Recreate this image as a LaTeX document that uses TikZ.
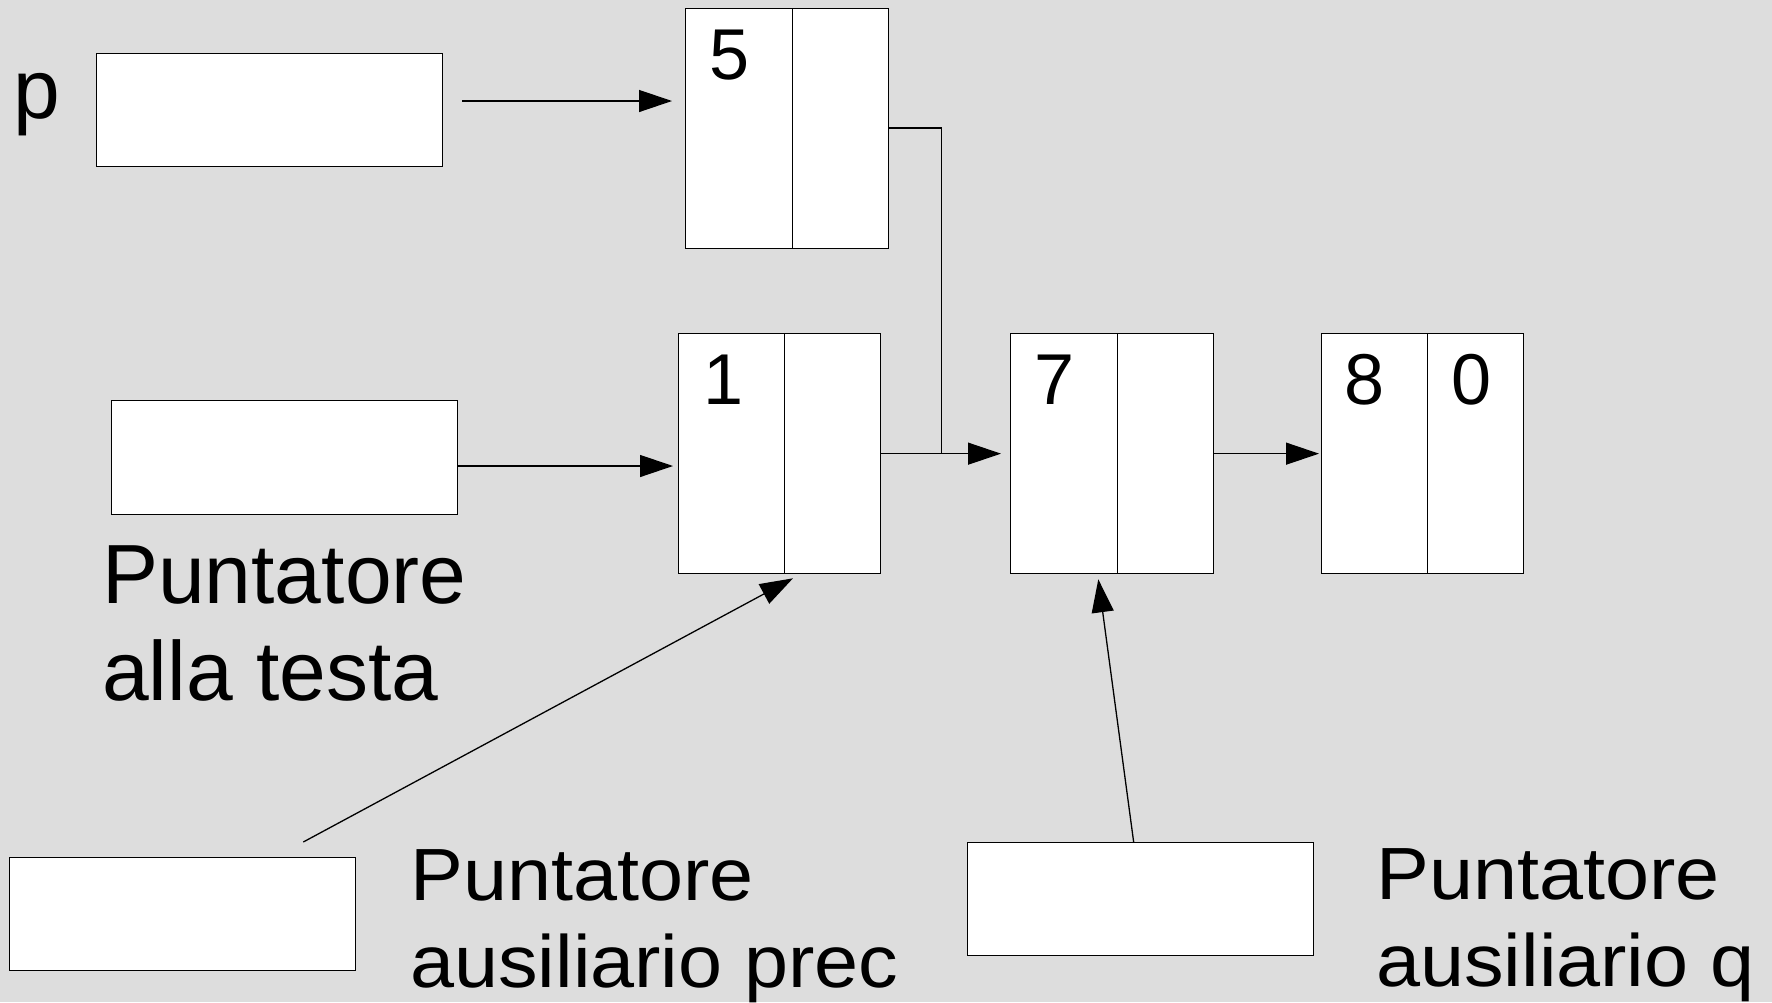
\documentclass[tikz,border=0pt]{standalone}
\usepackage{fontspec}
\setmainfont{Liberation Sans}
\newfontfamily\widesans[FakeStretch=1.07]{Liberation Sans}
\usetikzlibrary{arrows.meta,calc}
\definecolor{bg}{HTML}{DDDDDD}
\begin{document}
\begin{tikzpicture}[x=1pt,y=-1pt,
  lcell/.style={draw=black, fill=white, line width=1.3pt, inner sep=0pt, minimum width=107pt, minimum height=240pt, anchor=north west},
  rcell/.style={draw=black, fill=white, line width=1.3pt, inner sep=0pt, minimum width=96pt, minimum height=240pt, anchor=north west},
  ptrbox/.style={draw=black, fill=white, line width=1.3pt, inner sep=0pt, minimum width=346pt, minimum height=113pt, anchor=north west},
  digit/.style={inner sep=0pt, anchor=base west, font=\fontsize{72}{80}\selectfont},
  bigtxt/.style={inner sep=0pt, anchor=base west, align=left, font=\fontsize{84}{97}\selectfont},
  lbltxt/.style={inner sep=0pt, anchor=base west, align=left, font=\widesans\fontsize{74}{87}\selectfont},
  conn/.style={draw=black, line width=1.3pt},
  arr/.style={conn, -{Triangle[length=33pt,width=22pt]}}]
\useasboundingbox (0,0) rectangle (1772,1002);
\fill[bg] (0,0) rectangle (1772,1002);

% pointer boxes
\node[ptrbox] (pbox) at (96,53) {};
\node[ptrbox, minimum height=114pt] (headbox) at (111,400) {};
\node[ptrbox] (precbox) at (9,857) {};
\node[ptrbox] (qbox) at (967,842) {};

% list elements
\node[lcell] (n5a) at (685,8) {};
\node[rcell] (n5b) at (792,8) {};
\node[lcell] (n1a) at (677.5,333) {};
\node[rcell] (n1b) at (784,333) {};
\node[lcell] (n7a) at (1010,333) {};
\node[rcell] (n7b) at (1117,333) {};
\node[lcell] (n8a) at (1320.5,333) {};
\node[rcell] (n8b) at (1427,333) {};

% digits
\node[digit] (d5) at (709,79) {5};
\node[digit] (d1) at (703,404) {1};
\node[digit] (d7) at (1034,404) {7};
\node[digit] (d8) at (1344,404) {8};
\node[digit] (d0) at (1451,404) {0};

% labels (anchor = baseline of the last line)
\node[bigtxt] (lp) at (13.5,118) {p};
\node[bigtxt] (lhead) at (102,700) {Puntatore\\alla testa};
\node[lbltxt] (lprec) at (410,987) {Puntatore\\ausiliario prec};
\node[lbltxt] (lq) at (1376,986) {Puntatore\\ausiliario q};

% connectors
\draw[arr, shorten <=19pt, shorten >=13pt] (pbox.east |- 0,101) -- (n5a.west |- 0,101);
\draw[arr, shorten >=4.5pt] (headbox.east |- 0,466) -- (n1a.west |- 0,466);
\coordinate (J) at (941.6,453);
\draw[conn] (n5b.east |- 0,128) -| (J);
\draw[arr, shorten >=9pt] (n1b.east) -- (n7a.west);
\draw[arr, shorten >=1.5pt] (n7b.east) -- (n8a.west);
\draw[arr] ($(precbox.north east)+(-53,-15)$) -- ($(n1b.south west)+(9,4)$);
\draw[arr] ($(qbox.north)+(-7,0)$) -- ($(n7a.south east)+(-20,5)$);
\end{tikzpicture}
\end{document}
